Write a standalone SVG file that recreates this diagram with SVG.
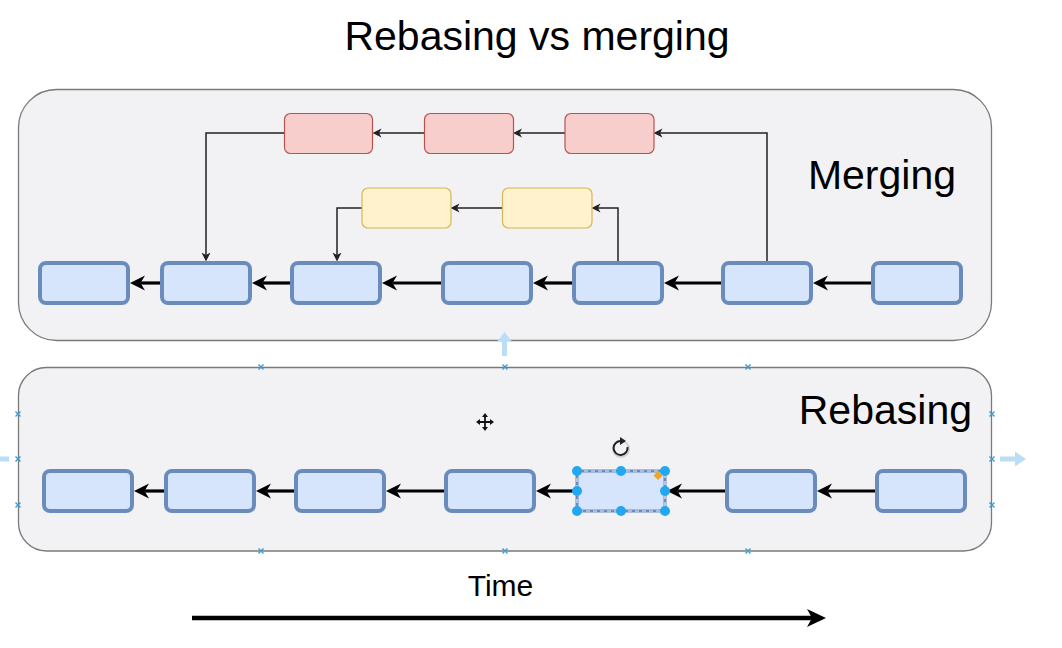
<svg xmlns="http://www.w3.org/2000/svg" width="1062" height="648" viewBox="0 0 1062 648">
<style>
.bg{fill:#ffffff}
.frame{fill:#f2f2f4;stroke:#7a7a7a;stroke-width:1.3}
.blue{fill:#d6e5fb;stroke:#6a8cbd;stroke-width:4}
.red{fill:#f8cecc;stroke:#b85450;stroke-width:1.2}
.yellow{fill:#fff2cc;stroke:#d6b656;stroke-width:1.2}
.thick{fill:none;stroke:#000;stroke-width:3.2;marker-end:url(#bigHead)}
.thin{fill:none;stroke:#222;stroke-width:1.5;marker-end:url(#smallHead)}
.time{fill:none;stroke:#000;stroke-width:4.5;marker-end:url(#timeHead)}
.lbl{font-family:"Liberation Sans",Arial,Helvetica,sans-serif;fill:#000}
.xm{stroke:#3d9ad1;stroke-width:1.4;fill:none}
.hint{fill:#b9def6}
.handle{fill:#22a7f0}
</style>
<defs>
<marker id="bigHead" viewBox="0 -8 16 16" refX="4.5" refY="0" markerWidth="16" markerHeight="16" markerUnits="userSpaceOnUse" orient="auto">
<path d="M15,0 L0,-7.5 L4.5,0 L0,7.5 Z" fill="#000"/>
</marker>
<marker id="smallHead" viewBox="0 -5 10 10" refX="2.5" refY="0" markerWidth="10" markerHeight="10" markerUnits="userSpaceOnUse" orient="auto">
<path d="M9,0 L0,-4.5 L2.5,0 L0,4.5 Z" fill="#222"/>
</marker>
<marker id="timeHead" viewBox="0 -10 20 20" refX="5" refY="0" markerWidth="20" markerHeight="20" markerUnits="userSpaceOnUse" orient="auto">
<path d="M19,0 L0,-9 L5,0 L0,9 Z" fill="#000"/>
</marker>
</defs>
<rect class="bg" x="0" y="0" width="1062" height="648"/>

<text class="lbl" x="537" y="50" font-size="41" text-anchor="middle">Rebasing vs merging</text>

<g id="merging-frame">
<rect class="frame" x="18.5" y="89.5" width="973" height="251" rx="38" ry="38"/>
<text class="lbl" x="956" y="188.5" font-size="41" text-anchor="end">Merging</text>
</g>
<g id="rebasing-frame">
<rect class="frame" x="18.5" y="367.5" width="973" height="183.5" rx="28" ry="28"/>
<text class="lbl" x="972" y="424" font-size="41" text-anchor="end">Rebasing</text>
</g>

<g id="connectors">
<line class="thick" x1="160" y1="283" x2="140.5" y2="283"/>
<line class="thick" x1="290" y1="283" x2="262.5" y2="283"/>
<line class="thick" x1="441" y1="283" x2="392.5" y2="283"/>
<line class="thick" x1="572" y1="283" x2="543.5" y2="283"/>
<line class="thick" x1="721" y1="283" x2="674.5" y2="283"/>
<line class="thick" x1="871" y1="283" x2="823.5" y2="283"/>
<polyline class="thin" points="767,261 767,133 660,133"/>
<line class="thin" x1="565" y1="133" x2="519.5" y2="133"/>
<line class="thin" x1="424" y1="133" x2="379" y2="133"/>
<polyline class="thin" points="284,133 206,133 206,255"/>
<polyline class="thin" points="618,261 618,208 598,208"/>
<line class="thin" x1="502.5" y1="208" x2="457" y2="208"/>
<polyline class="thin" points="362,208 337,208 337,255"/>
<line class="thick" x1="164" y1="491" x2="144.5" y2="491"/>
<line class="thick" x1="294" y1="491" x2="266.5" y2="491"/>
<line class="thick" x1="444" y1="491" x2="396.5" y2="491"/>
<line class="thick" x1="575" y1="491" x2="546.5" y2="491"/>
<line class="thick" x1="725" y1="491" x2="677.5" y2="491"/>
<line class="thick" x1="875" y1="491" x2="827.5" y2="491"/>
<line class="time" x1="192" y1="618" x2="812" y2="618"/>
</g>

<g id="m1"><rect class="blue" x="40" y="263" width="88" height="40" rx="6"/></g>
<g id="m2"><rect class="blue" x="162" y="263" width="88" height="40" rx="6"/></g>
<g id="m3"><rect class="blue" x="292" y="263" width="88" height="40" rx="6"/></g>
<g id="m4"><rect class="blue" x="443" y="263" width="88" height="40" rx="6"/></g>
<g id="m5"><rect class="blue" x="574" y="263" width="88" height="40" rx="6"/></g>
<g id="m6"><rect class="blue" x="723" y="263" width="88" height="40" rx="6"/></g>
<g id="m7"><rect class="blue" x="873" y="263" width="88" height="40" rx="6"/></g>

<g id="r1"><rect class="red" x="284.5" y="113.5" width="88" height="40" rx="6"/></g>
<g id="r2"><rect class="red" x="424.5" y="113.5" width="89" height="40" rx="6"/></g>
<g id="r3"><rect class="red" x="565" y="113.5" width="89" height="40" rx="6"/></g>

<g id="y1"><rect class="yellow" x="362" y="188" width="89" height="40" rx="6"/></g>
<g id="y2"><rect class="yellow" x="502.5" y="188" width="89.5" height="40" rx="6"/></g>

<g id="b1"><rect class="blue" x="44" y="471" width="88" height="40" rx="6"/></g>
<g id="b2"><rect class="blue" x="166" y="471" width="88" height="40" rx="6"/></g>
<g id="b3"><rect class="blue" x="296" y="471" width="88" height="40" rx="6"/></g>
<g id="b4"><rect class="blue" x="446" y="471" width="88" height="40" rx="6"/></g>
<g id="b5">
<rect x="577" y="471" width="88" height="40" fill="#d6e5fb" stroke="#6a8cbd" stroke-width="3"/>
<rect x="577" y="471" width="88" height="40" fill="none" stroke="#e6eefa" stroke-width="1.2" stroke-dasharray="4 3"/>
</g>
<g id="b6"><rect class="blue" x="727" y="471" width="88" height="40" rx="6"/></g>
<g id="b7"><rect class="blue" x="877" y="471" width="88" height="40" rx="6"/></g>

<g id="time-label">
<text class="lbl" x="500.5" y="595.5" font-size="30" text-anchor="middle">Time</text>
</g>

<g id="editor-overlay">
<circle class="handle" cx="577" cy="471" r="5"/>
<circle class="handle" cx="621" cy="471" r="5"/>
<circle class="handle" cx="665" cy="471" r="5"/>
<circle class="handle" cx="577" cy="491" r="5"/>
<circle class="handle" cx="665" cy="491" r="5"/>
<circle class="handle" cx="577" cy="511" r="5"/>
<circle class="handle" cx="621" cy="511" r="5"/>
<circle class="handle" cx="665" cy="511" r="5"/>
<path d="M658,471 L662.5,475.5 L658,480 L653.5,475.5 Z" fill="#f5a31a"/>
<circle cx="621" cy="449" r="8" fill="none" stroke="#cfcfd3" stroke-width="2"/>
<path d="M627.5,447 A7,7 0 1 1 621,441" fill="none" stroke="#222" stroke-width="2"/>
<path d="M620,437 L626,441 L620,445 Z" fill="#222"/>
<path d="M485,415 L485,429 M478,422 L492,422" stroke="#111" stroke-width="1.8"/>
<path d="M485,413 L482,417 L488,417 Z M485,431 L482,427 L488,427 Z M476,422 L480,419 L480,425 Z M494,422 L490,419 L490,425 Z" fill="#111"/>
<path class="hint" d="M502,356 L502,341 L497.5,341 L504.5,332 L511.5,341 L507,341 L507,356 Z"/>
<path class="hint" d="M1000,456.5 L1015,456.5 L1015,451.5 L1026,459 L1015,466.5 L1015,461.5 L1000,461.5 Z"/>
<path class="hint" d="M9,456.5 L-6,456.5 L-6,451.5 L-17,459 L-6,466.5 L-6,461.5 L9,461.5 Z"/>
<path class="xm" d="M258.5,364.5 l5,5 m0,-5 l-5,5 M502.5,364.5 l5,5 m0,-5 l-5,5 M745.5,364.5 l5,5 m0,-5 l-5,5 M258.5,548.5 l5,5 m0,-5 l-5,5 M502.5,548.5 l5,5 m0,-5 l-5,5 M745.5,548.5 l5,5 m0,-5 l-5,5 M15.5,411.5 l5,5 m0,-5 l-5,5 M15.5,456.5 l5,5 m0,-5 l-5,5 M15.5,502.5 l5,5 m0,-5 l-5,5 M989.5,411.5 l5,5 m0,-5 l-5,5 M989.5,456.5 l5,5 m0,-5 l-5,5 M989.5,502.5 l5,5 m0,-5 l-5,5"/>
</g>
</svg>
